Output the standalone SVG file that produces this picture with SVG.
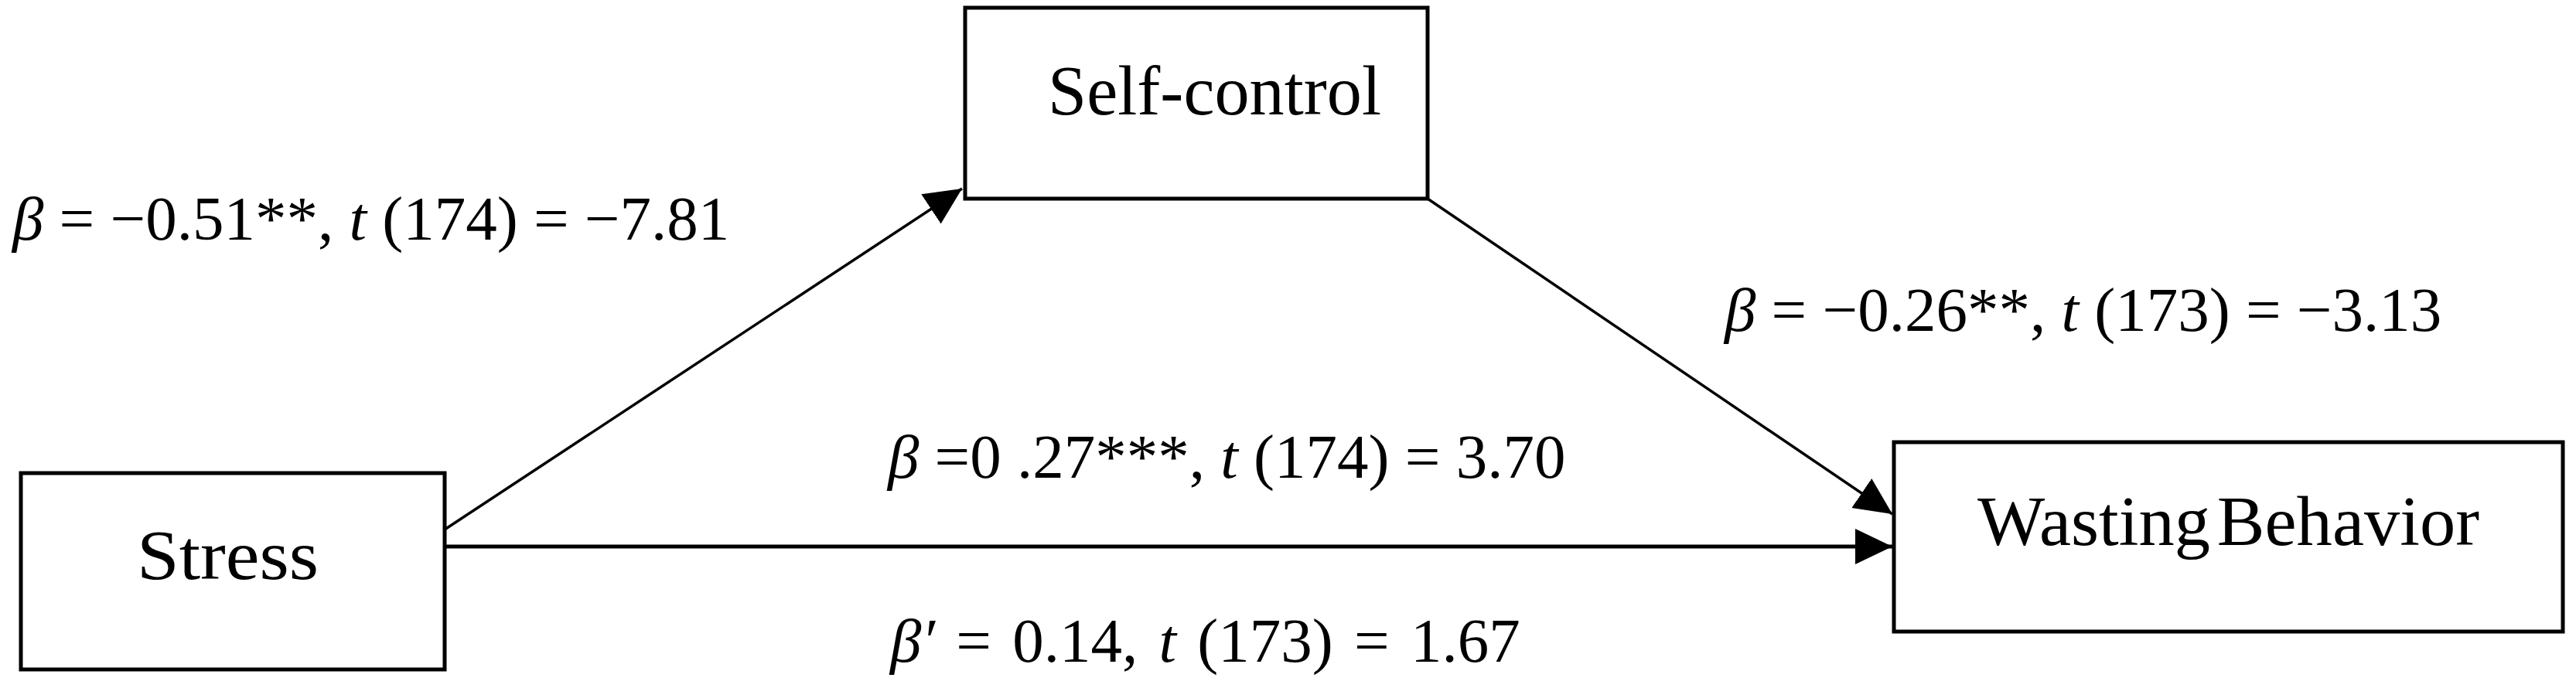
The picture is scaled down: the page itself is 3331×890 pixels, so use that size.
<svg xmlns="http://www.w3.org/2000/svg" width="3331" height="890" viewBox="0 0 3331 890">
<style>
.box{fill:#fff;stroke:#000;stroke-width:5}
.lbl{font-family:"Liberation Serif","Times New Roman",serif;font-size:91px;fill:#000}
.eq{font-family:"Liberation Serif","Times New Roman",serif;font-size:81px;fill:#000}
.it{font-style:italic}
.conn{stroke:#000;stroke-width:3.5;fill:none}
.hconn{stroke:#000;stroke-width:5;fill:none}
</style>
<defs>
<marker id="arr" markerUnits="userSpaceOnUse" markerWidth="50" markerHeight="48" refX="48" refY="23" orient="auto">
<path d="M0,0 L48,23 L0,46 z" fill="#000"/>
</marker>
</defs>
<rect width="3331" height="890" fill="#fff"/>
<g id="connectors">
<line class="conn" x1="575" y1="685" x2="1244" y2="244" marker-end="url(#arr)"/>
<line class="conn" x1="1846" y1="257" x2="2447" y2="665" marker-end="url(#arr)"/>
<line class="hconn" x1="575" y1="707" x2="2447" y2="707" marker-end="url(#arr)"/>
</g>
<g id="self-control">
<rect class="box" x="1248" y="10" width="598" height="247"/>
<text class="lbl" x="1355" y="148" textLength="431" lengthAdjust="spacingAndGlyphs">Self-control</text>
</g>
<g id="stress">
<rect class="box" x="27" y="612" width="548" height="254"/>
<text class="lbl" x="177" y="749" font-size="100" textLength="235" lengthAdjust="spacingAndGlyphs">Stress</text>
</g>
<g id="wasting-behavior">
<rect class="box" x="2449" y="572" width="865" height="245"/>
<text class="lbl" x="2557" y="705" word-spacing="-14" textLength="649" lengthAdjust="spacingAndGlyphs">Wasting Behavior</text>
</g>
<g id="labels">
<text class="eq" x="16" y="310"><tspan class="it">β</tspan> = −0.51**, <tspan class="it">t</tspan> (174) = −7.81</text>
<text class="eq" x="2230" y="428"><tspan class="it">β</tspan> = −0.26**, <tspan class="it">t</tspan> (173) = −3.13</text>
<text class="eq" x="1148" y="618"><tspan class="it">β</tspan> =0 .27***, <tspan class="it">t</tspan> (174) = 3.70</text>
<text class="eq" x="1151" y="856" word-spacing="7"><tspan class="it">β′</tspan> = 0.14, <tspan class="it">t</tspan> (173) = 1.67</text>
</g>
</svg>
